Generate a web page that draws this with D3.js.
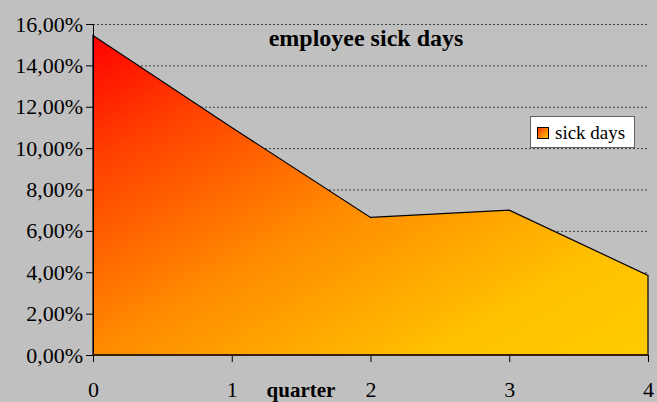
<!DOCTYPE html>
<html><head><meta charset="utf-8">
<script src="https://cdn.jsdelivr.net/npm/d3@7"></script>
<style>html,body{margin:0;padding:0;background:#c0c0c0;}svg{display:block;}</style>
</head><body>
<script>
const quarters = [0, 1, 2, 3, 4];
const sickDays = [15.45, 11.0, 6.65, 7.0, 3.85];
const yTicks = [0, 2, 4, 6, 8, 10, 12, 14, 16];
const title = "employee sick days";
const xTitle = "quarter";
const seriesName = "sick days";

const FONT = "'Liberation Serif','Times New Roman','DejaVu Serif',serif";
const W = 657, H = 402;
const svg = d3.select("body").append("svg").attr("width", W).attr("height", H);
svg.append("rect").attr("width", W).attr("height", H).attr("fill", "#c0c0c0");

const x = d3.scaleLinear().domain([0, 4]).range([93, 648]);
const y = d3.scaleLinear().domain([0, 16]).range([355, 24]);

const defs = svg.append("defs");
const g1 = defs.append("linearGradient").attr("id", "grad")
  .attr("x1", 0).attr("y1", 0).attr("x2", 1).attr("y2", 1);
[[0, "#ff0000"], [0.2, "#ff4000"], [0.5, "#ff8c00"], [0.8, "#ffc000"], [1, "#ffcc00"]]
  .forEach(([o, c]) => g1.append("stop").attr("offset", o).attr("stop-color", c));
const g2 = defs.append("linearGradient").attr("id", "grad2").attr("x1", 0).attr("y1", 0).attr("x2", 1).attr("y2", 1);
g2.append("stop").attr("offset", 0).attr("stop-color", "#ff3000");
g2.append("stop").attr("offset", 1).attr("stop-color", "#ffcc00");

// gridlines
svg.append("g").selectAll("line").data(yTicks.filter(d => d > 0)).join("line")
  .attr("x1", x(0)).attr("x2", x(4)).attr("y1", d => y(d) + 0.5).attr("y2", d => y(d) + 0.5)
  .attr("stroke", "#404040").attr("stroke-width", 1).attr("stroke-dasharray", "2,2");

const data = quarters.map((q, i) => ({ q, v: sickDays[i] }));
const area = d3.area().x(d => x(d.q)).y0(y(0)).y1(d => y(d.v));
svg.append("path").datum(data).attr("d", area).attr("fill", "url(#grad)")
  .attr("stroke", "#000").attr("stroke-width", 1.2);

// y axis
const yAxis = d3.axisLeft(y).tickValues(yTicks).tickSize(7).tickFormat(d => d.toFixed(2).replace(".", ",") + "%");
const ya = svg.append("g").attr("transform", `translate(${x(0)},0)`).call(yAxis);
ya.attr("font-family", FONT);
ya.select(".domain").attr("stroke", "#000");
ya.selectAll(".tick line").attr("stroke", "#000");
ya.selectAll("text").attr("font-family", FONT).attr("font-size", 22).attr("fill", "#000").attr("x", -10).attr("dy", "0.32em");

// x axis
const xAxis = d3.axisBottom(x).tickValues(quarters).tickSize(7).tickFormat(d3.format("d"));
const xa = svg.append("g").attr("transform", `translate(0,${y(0)})`).call(xAxis);
xa.attr("font-family", FONT);
xa.select(".domain").remove();
xa.selectAll(".tick line").attr("stroke", "#000");
xa.selectAll("text").attr("font-family", FONT).attr("font-size", 22).attr("fill", "#000").attr("y", 0).attr("dy", 0).attr("transform", "translate(0,42)");
svg.append("line").attr("x1", x(0)).attr("x2", x(4)).attr("y1", y(0)).attr("y2", y(0)).attr("stroke", "#3a2000").attr("stroke-width", 2);

// x title
svg.append("text").attr("x", 301).attr("y", 397).attr("text-anchor", "middle")
  .attr("font-family", FONT).attr("font-weight", "bold").attr("font-size", 21).text(xTitle);

// title
svg.append("text").attr("x", 366).attr("y", 46).attr("text-anchor", "middle")
  .attr("font-family", FONT).attr("font-weight", "bold").attr("font-size", 24).text(title);

// legend
const lg = svg.append("g");
lg.append("rect").attr("x", 530.5).attr("y", 116.5).attr("width", 104).attr("height", 31).attr("fill", "#fff").attr("stroke", "#606060");
lg.append("rect").attr("x", 537.5).attr("y", 127.5).attr("width", 11).attr("height", 11).attr("fill", "url(#grad2)").attr("stroke", "#000");
lg.append("text").attr("x", 555).attr("y", 139).attr("font-family", FONT).attr("font-size", 19).text(seriesName);
</script>
</body></html>
